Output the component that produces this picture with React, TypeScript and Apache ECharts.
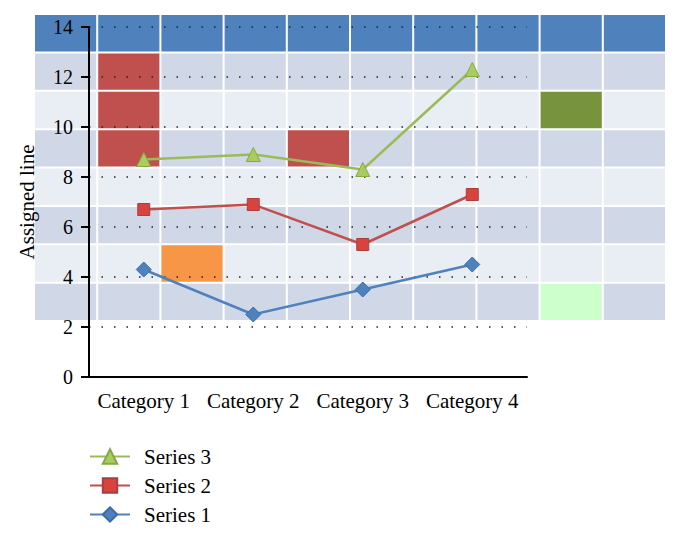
import React, { useEffect, useRef } from "react";
import * as echarts from "echarts";

const categories = ["Category 1", "Category 2", "Category 3", "Category 4"];
const series1 = [4.3, 2.5, 3.5, 4.5];
const series2 = [6.7, 6.9, 5.3, 7.3];
const series3 = [8.7, 8.9, 8.3, 12.3];
const seriesNames = ["Series 1", "Series 2", "Series 3"];
const legendOrder = ["Series 3", "Series 2", "Series 1"];
const yMin = 0;
const yMax = 14;
const yStep = 2;

// background table: one letter per cell (H header, D dark band, L light band,
// R red, O orange, G olive, P pale green)
const tableRows = [
  "HHHHHHHHHH",
  "DRDDDDDDDD",
  "LRLLLLLLGL",
  "DRDDRDDDDD",
  "LLLLLLLLLL",
  "DDDDDDDDDD",
  "LLOLLLLLLL",
  "DDDDDDDDPD",
];

const cellColors: Record<string, string> = {
  H: "#4F81BD",
  D: "#D0D8E8",
  L: "#E9EDF4",
  R: "#C0504D",
  O: "#F79646",
  G: "#77933C",
  P: "#CCFFCC",
};

const FONT = "'Liberation Serif', 'DejaVu Serif', serif";

export default function App() {
  const ref = useRef<HTMLDivElement>(null);
  useEffect(() => {
    if (!ref.current) return;
    const chart = echarts.init(ref.current, null, { renderer: "svg" });
    const nCols = tableRows[0].length;
    const cells: [number, number, string][] = [];
    tableRows.forEach((row, r) => {
      row.split("").forEach((code, c) => cells.push([c, r, code]));
    });
    chart.setOption({
      animation: false,
      backgroundColor: "#ffffff",
      grid: [
        { left: 89, top: 27, right: 153, bottom: 167 },
        { left: 34, top: 14, right: 14, bottom: 223 },
      ],
      legend: {
        orient: "vertical",
        left: 84,
        top: 441,
        itemWidth: 40,
        itemHeight: 18,
        itemGap: 8,
        data: legendOrder,
        textStyle: {
          fontFamily: FONT,
          fontSize: 21,
          color: "#000",
          padding: [0, 0, 0, 9],
        },
      },
      xAxis: [
        {
          type: "category",
          gridIndex: 0,
          data: categories,
          z: 3,
          axisLine: { lineStyle: { color: "#000", width: 2 } },
          axisTick: { length: 8, lineStyle: { color: "#000", width: 2 } },
          axisLabel: {
            fontFamily: FONT,
            fontSize: 21,
            color: "#000",
            margin: 13,
            interval: 0,
          },
          splitLine: { show: false },
        },
        {
          type: "category",
          gridIndex: 1,
          data: Array.from({ length: nCols }, (_, i) => String(i)),
          show: false,
        },
      ],
      yAxis: [
        {
          type: "value",
          gridIndex: 0,
          min: yMin,
          max: yMax,
          interval: yStep,
          z: 3,
          name: "Assigned line",
          nameLocation: "middle",
          nameRotate: 90,
          nameGap: 52,
          nameTextStyle: { fontFamily: FONT, fontSize: 21, color: "#000" },
          axisLine: { show: true, lineStyle: { color: "#000", width: 2 } },
          axisTick: { show: true, length: 8, lineStyle: { color: "#000", width: 2 } },
          axisLabel: { fontFamily: FONT, fontSize: 20, color: "#000", margin: 16 },
          splitLine: {
            show: true,
            lineStyle: { color: "#222", width: 1.5, type: [1.5, 11] },
          },
        },
        {
          type: "category",
          gridIndex: 1,
          inverse: true,
          data: tableRows.map((_, i) => String(i)),
          show: false,
        },
      ],
      series: [
        {
          type: "custom",
          xAxisIndex: 1,
          yAxisIndex: 1,
          z: -5,
          silent: true,
          data: cells.map((c) => [c[0], c[1]]),
          renderItem: (params: any, api: any) => {
            const pt = api.coord([api.value(0), api.value(1)]);
            const sz = api.size([1, 1]);
            const code = cells[params.dataIndex][2];
            return {
              type: "rect",
              shape: {
                x: pt[0] - sz[0] / 2 + 1,
                y: pt[1] - sz[1] / 2 + 1,
                width: sz[0] - 2,
                height: sz[1] - 2,
              },
              style: { fill: cellColors[code] },
            };
          },
        },
        {
          name: seriesNames[0],
          type: "line",
          data: series1,
          symbol: "diamond",
          symbolSize: 15,
          z: 5,
          lineStyle: { color: "#4F81BD", width: 2.5 },
          itemStyle: { color: "#4F81BD", borderColor: "#3B6CA8", borderWidth: 1 },
        },
        {
          name: seriesNames[1],
          type: "line",
          data: series2,
          symbol: "rect",
          symbolSize: 12,
          z: 5,
          lineStyle: { color: "#C0504D", width: 2.5 },
          itemStyle: { color: "#D9423F", borderColor: "#A8403D", borderWidth: 1 },
        },
        {
          name: seriesNames[2],
          type: "line",
          data: series3,
          symbol: "triangle",
          symbolSize: 14,
          z: 5,
          lineStyle: { color: "#9BBB59", width: 2.5 },
          itemStyle: { color: "#A9CC5E", borderColor: "#86A845", borderWidth: 1 },
        },
      ],
    });
    return () => chart.dispose();
  }, []);
  return (
    <div
      ref={ref}
      style={{ position: "fixed", left: 0, top: 0, width: 680, height: 544 }}
    />
  );
}
